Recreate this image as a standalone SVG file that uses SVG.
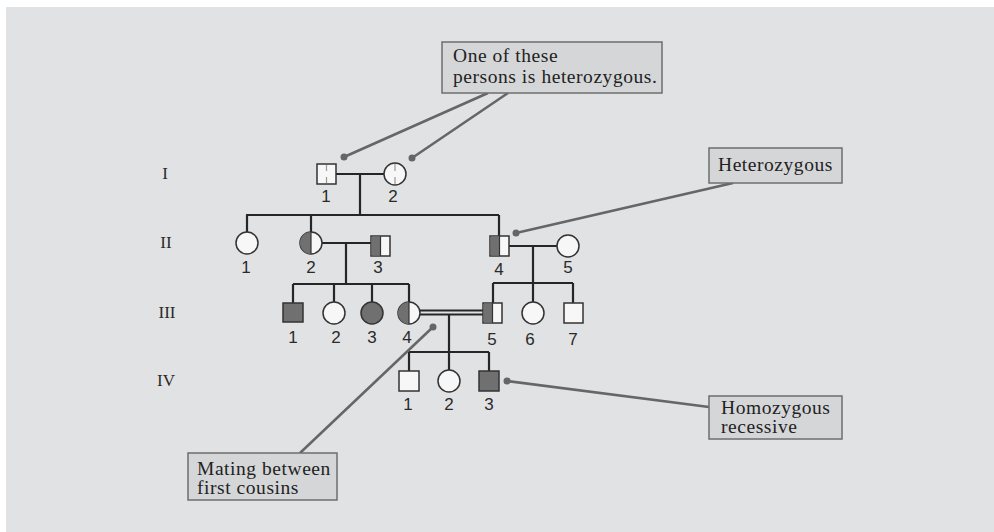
<svg xmlns="http://www.w3.org/2000/svg" width="994" height="532" viewBox="0 0 994 532">
<defs>
<style>
.bg{fill:#e1e2e4}
.ln{stroke:#262626;stroke-width:2.2;fill:none}
.sym{fill:#f7f7f7;stroke:#333;stroke-width:1.5}
.dk{fill:#707070}
.num{font-family:"Liberation Sans",Arial,sans-serif;font-size:17px;fill:#2a2a2a;text-anchor:middle}
.gen{font-family:"Liberation Serif","Times New Roman",serif;font-size:17px;fill:#2a2a2a;text-anchor:middle}
.box{fill:#d5d6d8;stroke:#6e6e6e;stroke-width:1.5}
.bt{font-family:"Liberation Serif","Times New Roman",serif;font-size:19.5px;fill:#222;letter-spacing:0.55px}
.lead{stroke:#666;stroke-width:2.5;fill:none}
.dot{fill:#666}
.dash{stroke:#999;stroke-width:1.2}
</style>
</defs>
<rect class="bg" x="6" y="7" width="988" height="525"/>

<g id="gen-labels">
<text class="gen" x="165" y="179">I</text>
<text class="gen" x="166" y="248">II</text>
<text class="gen" x="167" y="318">III</text>
<text class="gen" x="166" y="386">IV</text>
</g>

<g id="connectors">
<path class="ln" d="M336,174 H384 M360,174 V215 M246,215 H499 M247,215 V232 M311,215 V232 M499,215 V236"/>
<path class="ln" d="M322,243 H371 M346,243 V284 M293,284 H409 M293,284 V303 M334,284 V302 M372,284 V302 M409,284 V302"/>
<path class="ln" d="M509,246 H557 M533,246 V283 M493,283 H573 M493,283 V303 M533,283 V302 M573,283 V303"/>
<path class="ln" d="M420,310.5 H483 M420,314.5 H483" style="stroke-width:1.8"/>
<path class="ln" d="M449,314.5 V352 M409,352 H489 M409,352 V371 M449,352 V370 M489,352 V371"/>
</g>

<g id="I-1"><rect class="sym" x="317" y="164" width="19" height="20"/><path class="dash" d="M326.5,165 V171 M326.5,177 V183"/><text class="num" x="326" y="202">1</text></g>
<g id="I-2"><circle class="sym" cx="395" cy="174" r="11"/><path class="dash" d="M395,164 V171 M395,177 V184"/><text class="num" x="393" y="202">2</text></g>

<g id="II-1"><circle class="sym" cx="247" cy="243" r="11"/><text class="num" x="246" y="273">1</text></g>
<g id="II-2"><circle class="sym" cx="311" cy="243" r="11"/><path class="dk" d="M311,232 A11,11 0 0 0 311,254 Z"/><path d="M311,232 V254" stroke="#333" stroke-width="1.2"/><text class="num" x="311" y="273">2</text></g>
<g id="II-3"><rect class="sym" x="371" y="236" width="19" height="20"/><rect class="dk" x="371.8" y="236.8" width="9" height="18.4"/><path d="M380.5,236 V256" stroke="#333" stroke-width="1.2"/><text class="num" x="378" y="273">3</text></g>
<g id="II-4"><rect class="sym" x="490" y="236" width="19" height="20"/><rect class="dk" x="490.8" y="236.8" width="9" height="18.4"/><path d="M499.5,236 V256" stroke="#333" stroke-width="1.2"/><text class="num" x="499" y="275">4</text></g>
<g id="II-5"><circle class="sym" cx="568" cy="246" r="11"/><text class="num" x="568" y="273">5</text></g>

<g id="III-1"><rect class="sym dk" x="283" y="303" width="20" height="19"/><text class="num" x="293" y="343">1</text></g>
<g id="III-2"><circle class="sym" cx="334" cy="313" r="11"/><text class="num" x="336" y="343">2</text></g>
<g id="III-3"><circle class="sym dk" cx="372" cy="313" r="11"/><text class="num" x="372" y="343">3</text></g>
<g id="III-4"><circle class="sym" cx="409" cy="313" r="11"/><path class="dk" d="M409,302 A11,11 0 0 0 409,324 Z"/><path d="M409,302 V324" stroke="#333" stroke-width="1.2"/><text class="num" x="407" y="343">4</text></g>
<g id="III-5"><rect class="sym" x="483" y="303" width="19" height="20"/><rect class="dk" x="483.8" y="303.8" width="9" height="18.4"/><path d="M492.5,303 V323" stroke="#333" stroke-width="1.2"/><text class="num" x="492" y="345">5</text></g>
<g id="III-6"><circle class="sym" cx="533" cy="313" r="11"/><text class="num" x="530" y="345">6</text></g>
<g id="III-7"><rect class="sym" x="564" y="303" width="19" height="20"/><text class="num" x="573" y="345">7</text></g>

<g id="IV-1"><rect class="sym" x="399" y="371" width="20" height="20"/><text class="num" x="408" y="410">1</text></g>
<g id="IV-2"><circle class="sym" cx="449" cy="381" r="11"/><text class="num" x="449" y="410">2</text></g>
<g id="IV-3"><rect class="sym dk" x="479" y="371" width="20" height="20"/><text class="num" x="489" y="410">3</text></g>

<g id="callout-heterozygous-pair">
<path class="lead" d="M488,93 L344,157 M508,93 L412,158"/>
<circle class="dot" cx="344" cy="157" r="3.5"/><circle class="dot" cx="412" cy="158" r="3.5"/>
<rect class="box" x="442" y="42" width="220" height="51"/>
<text class="bt" x="453" y="62">One of these</text>
<text class="bt" x="453" y="83">persons is heterozygous.</text>
</g>

<g id="callout-heterozygous">
<path class="lead" d="M733,183 L516,233"/>
<circle class="dot" cx="516" cy="233" r="3.5"/>
<rect class="box" x="709" y="148" width="133" height="35"/>
<text class="bt" x="718" y="171">Heterozygous</text>
</g>

<g id="callout-homozygous">
<path class="lead" d="M709,407 L507,381"/>
<circle class="dot" cx="507" cy="381" r="3.5"/>
<rect class="box" x="709" y="396" width="133" height="43"/>
<text class="bt" x="721" y="414">Homozygous</text>
<text class="bt" x="721" y="433">recessive</text>
</g>

<g id="callout-mating">
<path class="lead" d="M300,453 L433,327"/>
<circle class="dot" cx="433" cy="327" r="3.5"/>
<rect class="box" x="188" y="453" width="149" height="47"/>
<text class="bt" x="197" y="475">Mating between</text>
<text class="bt" x="197" y="494">first cousins</text>
</g>
</svg>
